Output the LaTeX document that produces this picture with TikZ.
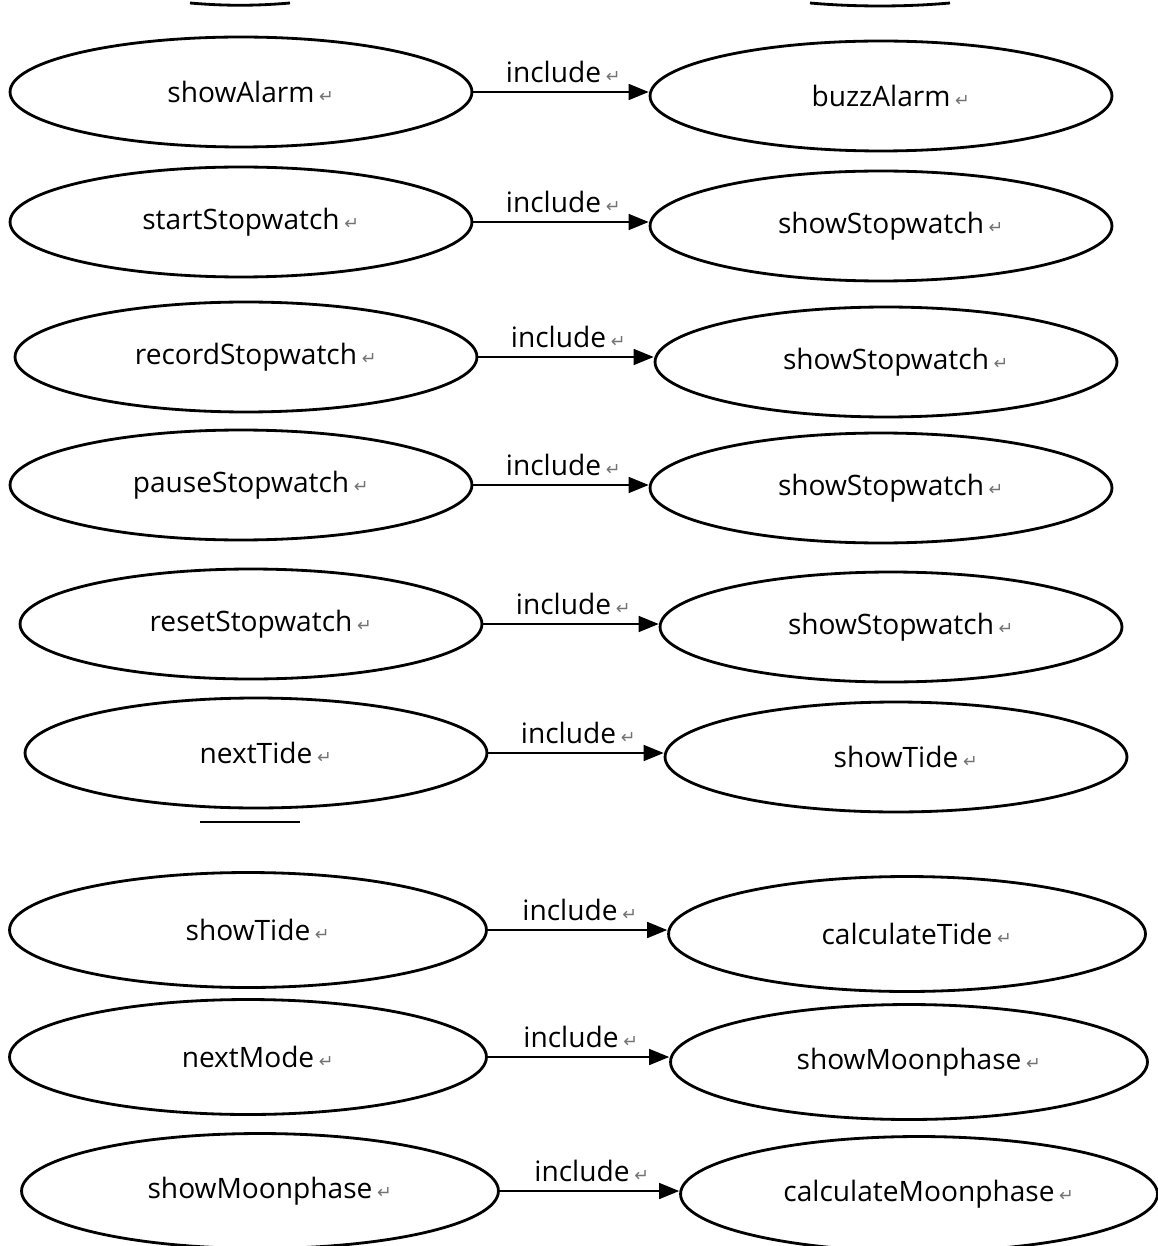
\documentclass[tikz,border=0pt]{standalone}
\usepackage{fontspec}
\setmainfont{Open Sans}
\newfontfamily\markfont{DejaVu Sans}
\usetikzlibrary{arrows.meta, shapes.geometric}
\newcommand{\mk}{\rlap{\,{\markfont\fontsize{10}{10}\selectfont\color{black!55}↵}}}

\begin{document}
\begin{tikzpicture}[
  x=0.02cm, y=-0.02cm,
  uc/.style={draw, ellipse, line width=1.6pt, inner sep=0pt,
    minimum width=9.24cm, minimum height=2.2cm, font=\fontsize{16}{19}\selectfont},
  ucw/.style={uc, minimum width=9.54cm, minimum height=2.3cm},
  arr/.style={-{Triangle[length=4mm, width=3.2mm]}, line width=0.9pt},
  lbl/.style={font=\fontsize{16}{19}\selectfont, inner sep=2pt, yshift=3pt, xshift=-0.15cm},
  frag/.style={line width=1.6pt}
]
\useasboundingbox (0,0) rectangle (1158,1246);

% cut-off pieces of ellipses from the page above
\draw[frag] (190,3) .. controls (225,6) and (255,6) .. (290,3);
\draw[frag] (810,3) .. controls (855,7) and (905,7) .. (950,3);
\draw[frag] (200,822) -- (300,822);

% left column
\node[uc]  (l1) at (241,92)   {showAlarm\mk};
\node[uc]  (l2) at (241,222)  {startStopwatch\mk};
\node[uc]  (l3) at (246,357)  {recordStopwatch\mk};
\node[uc]  (l4) at (241,485)  {pauseStopwatch\mk};
\node[uc]  (l5) at (251,624)  {resetStopwatch\mk};
\node[uc]  (l6) at (256,753)  {nextTide\mk};
\node[ucw] (l7) at (248,930)  {showTide\mk};
\node[ucw] (l8) at (248,1057) {nextMode\mk};
\node[ucw] (l9) at (260,1191) {showMoonphase\mk};

% right column
\node[uc]  (r1) at (881,96)   {buzzAlarm\mk};
\node[uc]  (r2) at (881,226)  {showStopwatch\mk};
\node[uc]  (r3) at (886,362)  {showStopwatch\mk};
\node[uc]  (r4) at (881,488)  {showStopwatch\mk};
\node[uc]  (r5) at (891,627)  {showStopwatch\mk};
\node[uc]  (r6) at (896,757)  {showTide\mk};
\node[ucw] (r7) at (907,934)  {calculateTide\mk};
\node[ucw] (r8) at (909,1062) {showMoonphase\mk};
\node[ucw] (r9) at (919,1194) {calculateMoonphase\mk};

\foreach \i in {1,...,9}
  \draw[arr] (l\i.east) -- (l\i.east -| r\i.west)
    node[lbl, above, midway] {include\mk};
\end{tikzpicture}
\end{document}
